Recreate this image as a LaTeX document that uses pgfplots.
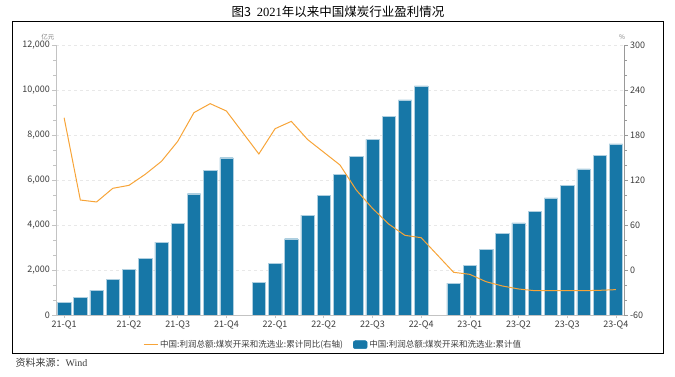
\documentclass[border=0pt]{standalone}
\usepackage{fontspec}
\setmainfont{Noto Sans CJK SC}
\newfontfamily\cjk{Noto Sans CJK SC}
\newfontfamily\serif{Liberation Serif}
\usepackage{pgfplots}
\pgfplotsset{compat=1.18}
\definecolor{barblue}{RGB}{23,119,167}
\definecolor{lineorange}{RGB}{247,164,56}
\definecolor{axisgray}{RGB}{195,195,195}
\definecolor{txtgray}{RGB}{60,60,60}
\pgfplotstableread{
x y
0 560
1 770
2 1100
3 1570
4 2030
5 2530
6 3240
7 4060
8 5390
9 6440
10 6990
12 1450
13 2310
14 3390
15 4440
16 5330
17 6260
18 7050
19 7810
20 8830
21 9560
22 10180
24 1420
25 2220
26 2920
27 3620
28 4090
29 4620
30 5200
31 5750
32 6490
33 7080
34 7600
}\bardata
\pgfplotstableread{
x y
0 203
1 93.3
2 90.7
3 108.9
4 112.9
5 127.6
6 144.9
7 171.5
8 209.8
9 221.8
10 212
12 154.7
13 188.4
14 198.2
15 174
16 157
17 140
18 106.7
19 82.2
20 61.3
21 46.2
22 43.1
24 -3.1
25 -5.8
26 -15.6
27 -21.3
28 -25.3
29 -27.6
30 -27.6
31 -27.6
32 -27.6
33 -27.1
34 -26.2
}\linedata
\begin{document}
\begin{tikzpicture}[x=1pt,y=1pt]
\path[use as bounding box] (0,0) rectangle (675,377);
\draw[black, line width=1pt] (12,23) rectangle (663,355);
\node[font=\fontsize{12.5}{13}\selectfont] at (338,365) {图3\hspace{6pt}{\serif 2021}年以来中国煤炭行业盈利情况};
\node[font=\fontsize{6.5}{7}\selectfont, text=gray] at (48,340) {亿元};
\node[font=\fontsize{6.5}{7}\selectfont, text=gray] at (622,340) {\%};
\node[anchor=west, font=\fontsize{10}{11}\selectfont, text=txtgray] at (12,14) {资料来源：{\serif Wind}};
\begin{axis}[
  at={(56pt,62pt)}, anchor=south west,
  scale only axis, width=568pt, height=270pt,
  xmin=-0.5, xmax=34.5, ymin=0, ymax=12000,
  axis y line*=left, axis x line*=bottom,
  axis line style={axisgray, line width=0.8pt},
  scaled y ticks=false,
  ytick={0,2000,...,12000}, minor y tick num=2,
  xtick={0,4,7,10,13,16,19,22,25,28,31,34},
  xticklabels={21-Q1,21-Q2,21-Q3,21-Q4,22-Q1,22-Q2,22-Q3,22-Q4,23-Q1,23-Q2,23-Q3,23-Q4},
  tick align=outside, major tick length=3.5pt, minor tick length=2.5pt,
  tick style={axisgray, line width=0.6pt},
  ymajorgrids, grid style={dashed, gray!18, line width=0.5pt},
  tick label style={font=\fontsize{9}{10}\selectfont, text=txtgray},
  yticklabel style={xshift=1pt},
  xticklabel style={yshift=1pt},
  /pgf/number format/.cd, 1000 sep={,}, assume math mode=true,
]
\addplot[ybar, bar width=13.3pt, fill=barblue, draw=barblue!35!white, line width=0.4pt] table[x=x,y=y] {\bardata};
\end{axis}
\begin{axis}[
  at={(56pt,62pt)}, anchor=south west,
  scale only axis, width=568pt, height=270pt,
  xmin=-0.5, xmax=34.5, ymin=-60, ymax=300,
  axis y line*=right, axis x line=none,
  axis line style={gray!80, line width=0.8pt},
  scaled y ticks=false,
  ytick={-60,0,...,300}, minor y tick num=2,
  tick align=outside, major tick length=3.5pt, minor tick length=2.5pt,
  tick style={gray!80, line width=0.6pt},
  tick label style={font=\fontsize{9}{10}\selectfont, text=txtgray},
  yticklabel style={xshift=-1pt},
  /pgf/number format/assume math mode=true,
  legend style={at={(axis description cs:0.4877,-0.11)}, anchor=center, draw=none, fill=none,
    font=\fontsize{8.5}{9}\selectfont, text=txtgray, legend columns=2,
    /tikz/every even column/.append style={column sep=8pt}},
]
\addplot[lineorange, line width=1pt, mark=none,
  legend image code/.code={\draw[lineorange, line width=1.2pt] (0pt,0pt) -- (14pt,0pt);}] table[x=x,y=y] {\linedata};
\addlegendentry{中国:利润总额:煤炭开采和洗选业:累计同比(右轴)}
\addlegendimage{legend image code/.code={\fill[barblue, rounded corners=2pt] (0pt,-4pt) rectangle (14pt,4pt);}}
\addlegendentry{中国:利润总额:煤炭开采和洗选业:累计值}
\end{axis}
\end{tikzpicture}
\end{document}
